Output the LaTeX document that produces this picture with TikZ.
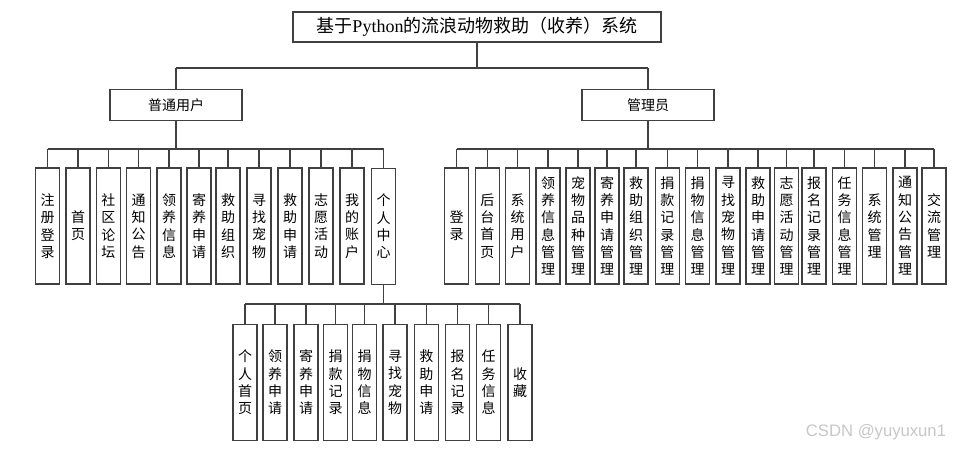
\documentclass[tikz,border=0pt]{standalone}
\usepackage{fontspec}
\newfontfamily\cjk{Noto Sans CJK SC}
\newfontfamily\latinserif{Liberation Serif}
\newfontfamily\wm{Liberation Sans}
\begin{document}
\begin{tikzpicture}[x=0.75pt,y=-0.75pt,
  ln/.style={draw=black!75,line width=0.9pt},
  topbox/.style={ln,fill=white,minimum width=276pt,minimum height=22.5pt,inner sep=0pt,font=\fontsize{13.5}{16}\cjk},
  midbox/.style={ln,fill=white,minimum width=99pt,minimum height=23pt,inner sep=0pt,font=\fontsize{10.5}{13}\cjk},
  leaf/.style={ln,fill=white,minimum width=18pt,minimum height=87pt,inner sep=0pt,align=center,font=\fontsize{10.5}{13}\cjk},
  wmark/.style={font=\fontsize{12.5}{15}\wm,text=black!22,inner sep=0pt}
]
\useasboundingbox (0,0) rectangle (953,450);
\coordinate (busA) at (0,68);
\coordinate (busU) at (0,149);
\coordinate (busP) at (0,304);

\node[topbox] (root) at (477,27) {基于{\latinserif Python}的流浪动物救助（收养）系统};
\node[midbox] (user) at (176,105) {普通用户};
\node[midbox] (admin) at (648,105) {管理员};

% user children
\node[leaf] (u1) at (47.7,226) {注\\册\\登\\录};
\node[leaf] (u2) at (78,226) {首\\页};
\node[leaf] (u3) at (108.3,226) {社\\区\\论\\坛};
\node[leaf] (u4) at (138.7,226) {通\\知\\公\\告};
\node[leaf] (u5) at (169,226) {领\\养\\信\\息};
\node[leaf] (u6) at (199,226) {寄\\养\\申\\请};
\node[leaf] (u7) at (228,226) {救\\助\\组\\织};
\node[leaf] (u8) at (259,226) {寻\\找\\宠\\物};
\node[leaf] (u9) at (290,226) {救\\助\\申\\请};
\node[leaf] (u10) at (321,226) {志\\愿\\活\\动};
\node[leaf] (u11) at (352,226) {我\\的\\账\\户};
\node[leaf] (u12) at (383.7,226.5) {个\\人\\中\\心};

% personal center children
\node[leaf] (p1) at (245,382.5) {个\\人\\首\\页};
\node[leaf] (p2) at (275,382.5) {领\\养\\申\\请};
\node[leaf] (p3) at (306,382.5) {寄\\养\\申\\请};
\node[leaf] (p4) at (335.7,382.5) {捐\\款\\记\\录};
\node[leaf] (p5) at (364.5,382.5) {捐\\物\\信\\息};
\node[leaf] (p6) at (395,382.5) {寻\\找\\宠\\物};
\node[leaf] (p7) at (426.3,382.5) {救\\助\\申\\请};
\node[leaf] (p8) at (457.5,382.5) {报\\名\\记\\录};
\node[leaf] (p9) at (488.5,382.5) {任\\务\\信\\息};
\node[leaf] (p10) at (520,382.5) {收\\藏};

% admin children
\node[leaf] (a1) at (456.7,226) {登\\录};
\node[leaf] (a2) at (487.3,226) {后\\台\\首\\页};
\node[leaf] (a3) at (517.7,226) {系\\统\\用\\户};
\node[leaf] (a4) at (548,226) {领\\养\\信\\息\\管\\理};
\node[leaf] (a5) at (578,226) {宠\\物\\品\\种\\管\\理};
\node[leaf] (a6) at (607,226) {寄\\养\\申\\请\\管\\理};
\node[leaf] (a7) at (636,226) {救\\助\\组\\织\\管\\理};
\node[leaf] (a8) at (667.3,226) {捐\\款\\记\\录\\管\\理};
\node[leaf] (a9) at (697.7,226) {捐\\物\\信\\息\\管\\理};
\node[leaf] (a10) at (728,226) {寻\\找\\宠\\物\\管\\理};
\node[leaf] (a11) at (758,226) {救\\助\\申\\请\\管\\理};
\node[leaf] (a12) at (786.7,226) {志\\愿\\活\\动\\管\\理};
\node[leaf] (a13) at (814,226) {报\\名\\记\\录\\管\\理};
\node[leaf] (a14) at (844.7,226) {任\\务\\信\\息\\管\\理};
\node[leaf] (a15) at (874.7,226) {系\\统\\管\\理};
\node[leaf] (a16) at (905,226) {通\\知\\公\\告\\管\\理};
\node[leaf] (a17) at (934,226) {交\\流\\管\\理};

% root connectors
\draw[ln] (root.south) -- (root.south |- busA);
\draw[ln] (user.north |- busA) -- (admin.north |- busA);
\draw[ln] (user.north |- busA) -- (user.north);
\draw[ln] (admin.north |- busA) -- (admin.north);

% user connectors
\draw[ln] (user.south) -- (user.south |- busU);
\draw[ln] (u1.north |- busU) -- (u12.north |- busU);
\foreach \i in {1,...,12} \draw[ln] (u\i.north) -- (u\i.north |- busU);

% admin connectors
\draw[ln] (admin.south) -- (admin.south |- busU);
\draw[ln] (a1.north |- busU) -- (a17.north |- busU);
\foreach \i in {1,...,17} \draw[ln] (a\i.north) -- (a\i.north |- busU);

% personal center connectors
\draw[ln] (u12.south) -- (u12.south |- busP);
\draw[ln] (p1.north |- busP) -- (p10.north |- busP);
\foreach \i in {1,...,10} \draw[ln] (p\i.north) -- (p\i.north |- busP);

\node[wmark] (wm) at (876,432) {CSDN @yuyuxun1};
\end{tikzpicture}
\end{document}
